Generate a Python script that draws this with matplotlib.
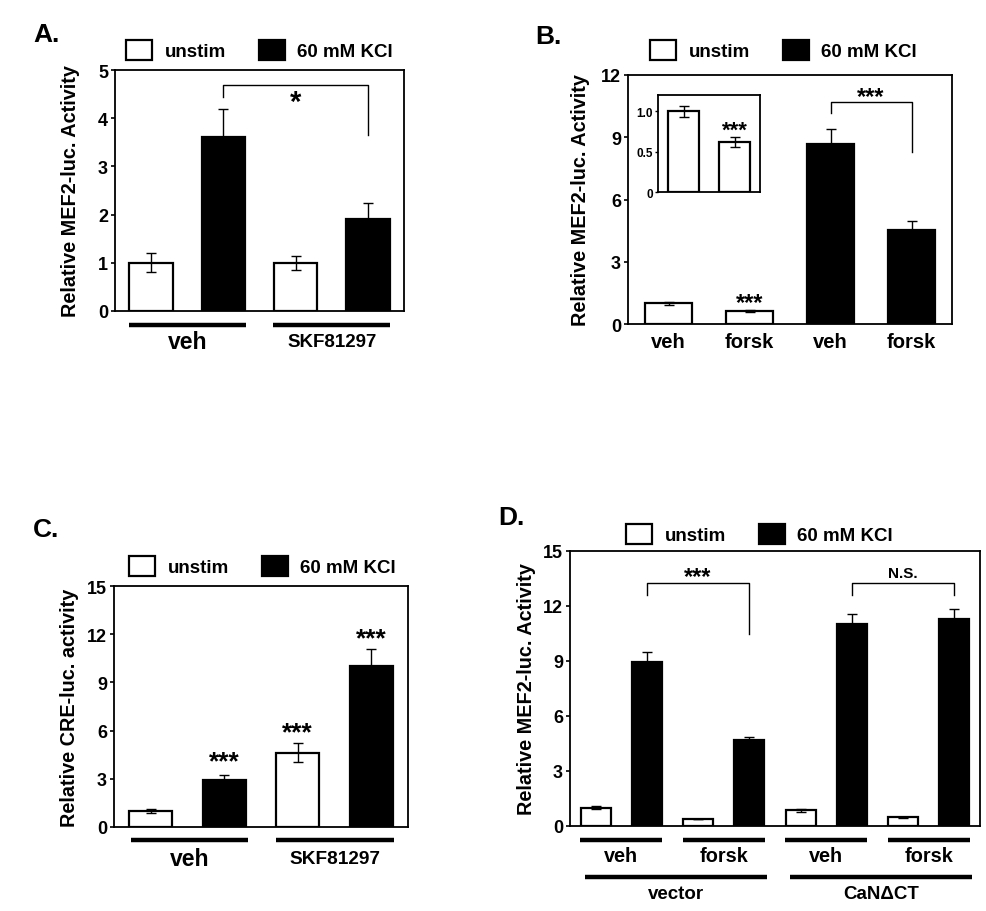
import matplotlib.pyplot as plt
from matplotlib.patches import Patch

plt.rcParams["font.family"] = ["Liberation Sans", "DejaVu Sans"]
plt.rcParams["font.weight"] = "bold"

# Panel A: MEF2-luc, SKF81297
a_vals = [1.0, 3.62, 1.0, 1.9]
a_errs = [0.2, 0.58, 0.15, 0.35]
a_fill = ["white", "black", "white", "black"]

# Panel B: MEF2-luc, forskolin
b_labels = ["veh", "forsk", "veh", "forsk"]
b_vals = [1.0, 0.62, 8.68, 4.52]
b_errs = [0.08, 0.05, 0.72, 0.42]
b_fill = ["white", "white", "black", "black"]
b_inset_vals = [1.0, 0.62]
b_inset_errs = [0.07, 0.06]

# Panel C: CRE-luc, SKF81297
c_vals = [1.0, 2.95, 4.62, 10.03]
c_errs = [0.15, 0.3, 0.58, 1.03]
c_fill = ["white", "black", "white", "black"]

# Panel D: MEF2-luc, CaN deltaCT
d_vals = [1.0, 8.95, 0.38, 4.7, 0.85, 11.02, 0.48, 11.27]
d_errs = [0.07, 0.52, 0.02, 0.16, 0.07, 0.55, 0.03, 0.57]
d_fill = ["white", "black"] * 4
d_sub = ["veh", "forsk", "veh", "forsk"]
d_groups = ["vector", "CaN\u0394CT"]

W, H = 986, 912
fig = plt.figure(figsize=(W / 100, H / 100), dpi=100)


def px_box(l, t, r, b):
    return [l / W, 1 - b / H, (r - l) / W, (b - t) / H]


def bars(ax, vals, errs, fill, width=0.6, lw=1.6):
    x = range(len(vals))
    ax.bar(x, vals, width=width, color=fill, edgecolor="black", linewidth=lw, zorder=2)
    ax.errorbar(x, vals, yerr=errs, fmt="none", ecolor="black", elinewidth=1.0,
                capsize=3.5, capthick=1.0, zorder=3)


def style(ax, ylim, yticks, n, ylabel, label_x, ysize=14.3):
    ax.set_xlim(-0.5, n - 0.5)
    ax.set_ylim(*ylim)
    ax.set_yticks(yticks)
    ax.set_xticks([])
    ax.tick_params(axis="y", direction="out", length=3, width=1.2, labelsize=13, pad=2)
    for lab in ax.get_yticklabels():
        lab.set_fontweight("bold")
    for s in ax.spines.values():
        s.set_linewidth(1.3)
    ax.set_ylabel(ylabel, fontsize=ysize, fontweight="bold")
    ax.yaxis.set_label_coords(label_x, 0.5)


def legend(ax, x_px, y_px, colsp=1.75):
    handles = [Patch(facecolor="white", edgecolor="black", linewidth=1.6, label="unstim"),
               Patch(facecolor="black", edgecolor="black", linewidth=1.6, label="60 mM KCl")]
    fig.legend(handles=handles, loc="lower left", bbox_to_anchor=(x_px / W, 1 - y_px / H),
               ncol=2, frameon=False, handlelength=1.4, handleheight=1.3,
               handletextpad=0.65, columnspacing=colsp, borderpad=0, borderaxespad=0,
               prop={"weight": "bold", "size": 13.5})


def bracket(ax, x0, x1, top, y0, y1, text, ty, size=17):
    ax.plot([x0, x0, x1, x1], [y0, top, top, y1], color="black", lw=1.0, zorder=4)
    ax.text((x0 + x1) / 2, ty, text, ha="center", va="center", fontsize=size, fontweight="bold")


def group_line(ax, x0, x1, y_axes, text=None, ty=None, size=14):
    ax.plot([x0, x1], [y_axes, y_axes], color="black", lw=3.2, solid_capstyle="butt",
            transform=ax.get_xaxis_transform(), clip_on=False)
    if text is not None:
        ax.text((x0 + x1) / 2, ty, text, ha="center", va="center", fontsize=size,
                fontweight="bold", transform=ax.get_xaxis_transform(), clip_on=False)


# ---- A ----
axA = fig.add_axes(px_box(115, 71, 404, 312))
bars(axA, a_vals, a_errs, a_fill, width=0.6)
style(axA, (0, 5), range(0, 6), 4, "Relative MEF2-luc. Activity", -0.121)
bracket(axA, 1.0, 3.0, 4.69, 4.44, 3.65, "*", 4.33, size=21)
hA = 312 - 71
group_line(axA, -0.31, 1.31, -(326 - 312) / hA, "veh", -(343 - 312) / hA, size=16.5)
group_line(axA, 1.69, 3.31, -(326 - 312) / hA, "SKF81297", -(343 - 312) / hA, size=13.5)
legend(axA, 126, 61)
fig.text(33 / W, 1 - 35 / H, "A.", fontsize=19, fontweight="bold", va="center")

# ---- B ----
axB = fig.add_axes(px_box(628, 76, 952, 325))
bars(axB, b_vals, b_errs, b_fill, width=0.58)
style(axB, (0, 12), range(0, 13, 3), 4, "Relative MEF2-luc. Activity", -0.117)
bracket(axB, 2.0, 3.0, 10.7, 10.17, 8.3, "***", 10.95, size=17)
axB.text(1.0, 1.05, "***", ha="center", va="center", fontsize=17, fontweight="bold")
hB = 325 - 76
for i, lab in enumerate(b_labels):
    axB.text(i, -(343 - 325) / hB, lab, ha="center", va="center", fontsize=14.5,
             fontweight="bold", transform=axB.get_xaxis_transform())
legend(axB, 650, 61)
fig.text(535 / W, 1 - 37 / H, "B.", fontsize=19, fontweight="bold", va="center")

axI = fig.add_axes(px_box(658, 96, 760, 193))
bars(axI, b_inset_vals, b_inset_errs, ["white", "white"], width=0.6, lw=1.6)
axI.set_xlim(-0.5, 1.5)
axI.set_ylim(0, 1.2)
axI.set_xticks([])
axI.set_yticks([0, 0.5, 1.0])
axI.set_yticklabels(["0", "0.5", "1.0"])
axI.tick_params(axis="y", direction="out", length=2, width=1.0, labelsize=8.5, pad=1.5)
for lab in axI.get_yticklabels():
    lab.set_fontweight("bold")
for s in axI.spines.values():
    s.set_linewidth(1.3)
axI.text(1.0, 0.77, "***", ha="center", va="center", fontsize=16, fontweight="bold")

# ---- C ----
axC = fig.add_axes(px_box(114, 587, 408, 828))
bars(axC, c_vals, c_errs, c_fill, width=0.585)
style(axC, (0, 15), range(0, 16, 3), 4, "Relative CRE-luc. activity", -0.119)
for i, y in [(1, 4.1), (2, 5.9), (3, 11.75)]:
    axC.text(i, y, "***", ha="center", va="center", fontsize=19, fontweight="bold")
hC = 828 - 587
group_line(axC, -0.27, 1.32, -(841 - 828) / hC, "veh", -(860 - 828) / hC, size=16.5)
group_line(axC, 1.7, 3.31, -(841 - 828) / hC, "SKF81297", -(860 - 828) / hC, size=13.7)
legend(axC, 129, 577)
fig.text(33 / W, 1 - 530 / H, "C.", fontsize=19, fontweight="bold", va="center")

# ---- D ----
axD = fig.add_axes(px_box(570, 552, 980, 827))
bars(axD, d_vals, d_errs, d_fill, width=0.59)
style(axD, (0, 15), range(0, 16, 3), 8, "Relative MEF2-luc. Activity", -0.083)
bracket(axD, 1.0, 3.0, 13.25, 12.6, 10.5, "***", 13.6, size=17)
bracket(axD, 5.0, 7.0, 13.25, 12.6, 12.6, "N.S.", 13.8, size=11)
hD = 827 - 552
for k, lab in enumerate(d_sub):
    group_line(axD, 2 * k - 0.3, 2 * k + 1.3, -(841 - 827) / hD, lab, -(857 - 827) / hD, size=14.3)
for k, lab in enumerate(d_groups):
    group_line(axD, 4 * k - 0.2, 4 * k + 3.35, -(878 - 827) / hD, lab, -(895 - 827) / hD, size=13.5)
legend(axD, 626, 545)
fig.text(498 / W, 1 - 518 / H, "D.", fontsize=19, fontweight="bold", va="center")

fig.savefig("out.png", dpi=100)
